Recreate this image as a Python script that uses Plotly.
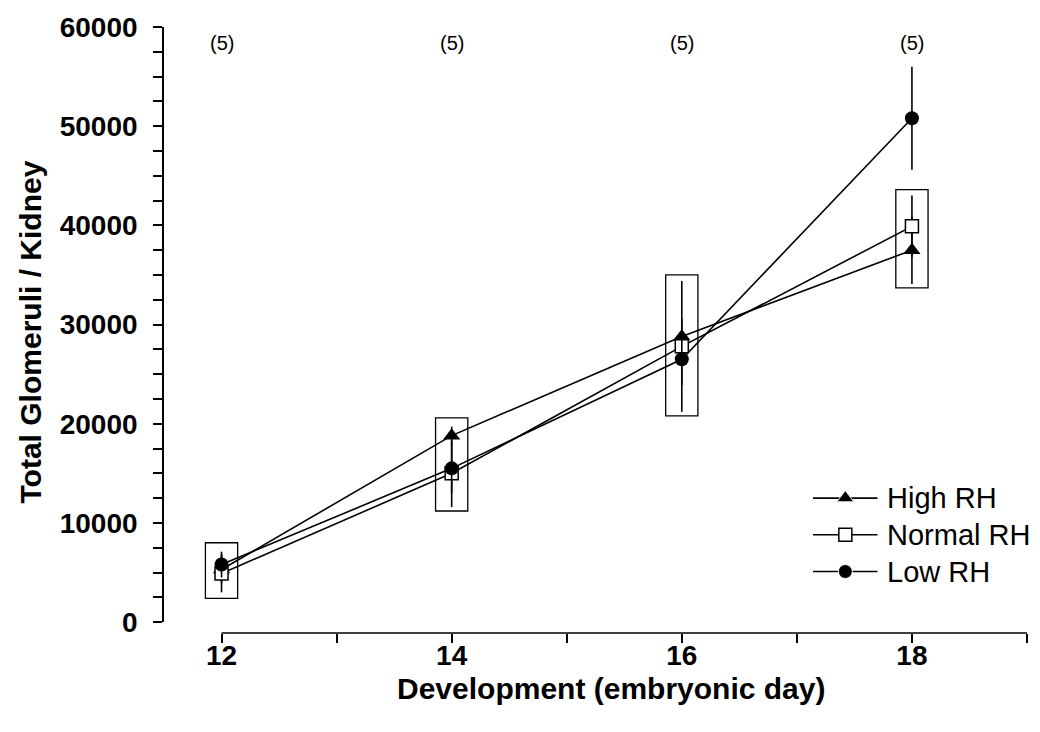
import plotly.graph_objects as go

# Embryonic day of sampling
days = [12, 14, 16, 18]

# Mean total glomeruli per kidney and error (one value per day)
high_rh = [5300, 18800, 28800, 37500]
high_rh_err = [1400, 900, 1800, 3400]

normal_rh = [4900, 15000, 27800, 39900]
normal_rh_err = [1900, 3400, 6600, 3100]

low_rh = [5800, 15500, 26500, 50800]
low_rh_err = [1300, 2500, 2600, 5200]

# Normal-range band around each day (lower / upper edge)
band_low = [2400, 11200, 20800, 33700]
band_high = [8000, 20600, 35000, 43600]
band_halfwidth = 0.14

# Sample size shown above each day
n_labels = ["(5)", "(5)", "(5)", "(5)"]
n_label_y = 58400

series = [
    ("High RH", high_rh, high_rh_err,
     dict(symbol="triangle-up", size=15, color="black", opacity=1)),
    ("Normal RH", normal_rh, normal_rh_err,
     dict(symbol="square", size=13, color="white", opacity=1,
          line=dict(color="black", width=1.5))),
    ("Low RH", low_rh, low_rh_err,
     dict(symbol="circle", size=14, color="black", opacity=1)),
]

FONT = "Liberation Sans, Arial, sans-serif"

# Plot-area geometry (pixels)
W, H = 1040, 732
M_L, M_R, M_T, M_B = 164, 13, 22, 99
PLOT_W = W - M_L - M_R
PLOT_H = H - M_T - M_B

fig = go.Figure()

for name, vals, errs, marker in series:
    fig.add_trace(go.Scatter(
        x=days, y=vals, name=name, mode="lines+markers",
        line=dict(color="black", width=1.6),
        marker=marker,
        error_y=dict(type="data", array=errs, visible=True,
                     color="black", thickness=1.6, width=0),
        cliponaxis=False, showlegend=False,
    ))

# Band rectangles
for d, lo, hi in zip(days, band_low, band_high):
    fig.add_shape(type="rect", xref="x", yref="y",
                  x0=d - band_halfwidth, x1=d + band_halfwidth, y0=lo, y1=hi,
                  line=dict(color="black", width=1.3), fillcolor="rgba(0,0,0,0)",
                  layer="below")

# n labels
for d, t in zip(days, n_labels):
    fig.add_annotation(x=d, y=n_label_y, xref="x", yref="y", text=t,
                       showarrow=False, font=dict(family=FONT, size=20, color="black"))

# Detached x-axis baseline from the first to the last day tick
fig.add_shape(type="line", xref="x", yref="paper", x0=12, x1=19, y0=0, y1=0,
              line=dict(color="black", width=1.6))

# Key: sample line with the marker in its middle, label to the right
key_pos = [2, 1, 0]
for (name, vals, errs, marker), ky in zip(series, key_pos):
    key_marker = dict(marker)
    key_marker["size"] = [0, marker["size"], 0]
    fig.add_trace(go.Scatter(
        x=[0, 0.5, 1], y=[ky, ky, ky], xaxis="x2", yaxis="y2",
        mode="lines+markers", line=dict(color="black", width=1.6),
        marker=key_marker, showlegend=False, cliponaxis=False, hoverinfo="skip",
    ))
    fig.add_annotation(x=1, y=ky, xref="x2", yref="y2", text=name, xanchor="left",
                       xshift=7, showarrow=False,
                       font=dict(family=FONT, size=29, color="black"))

# Axis titles
title_font = dict(family=FONT, size=30, color="black", weight="bold")
fig.add_annotation(text="Development (embryonic day)", xref="paper", yref="paper",
                   x=(611 - M_L) / PLOT_W, y=-(689 - (H - M_B)) / PLOT_H,
                   xanchor="center", yanchor="middle", showarrow=False, font=title_font)
fig.add_annotation(text="Total Glomeruli / Kidney", xref="paper", yref="paper",
                   x=(30 - M_L) / PLOT_W, y=((H - M_B) - 330) / PLOT_H, textangle=-90,
                   xanchor="center", yanchor="middle", showarrow=False, font=title_font)

y_ticks = list(range(0, 60001, 2500))
y_text = [f"{v}" if v % 10000 == 0 else "" for v in y_ticks]

fig.update_layout(
    width=W, height=H,
    margin=dict(l=M_L, r=M_R, t=M_T, b=M_B),
    paper_bgcolor="white", plot_bgcolor="white",
    showlegend=False,
    font=dict(family=FONT, color="black"),
    xaxis=dict(
        range=[11.5, 19.0], anchor="free", position=0,
        tickvals=[12, 13, 14, 15, 16, 17, 18, 19],
        ticktext=["12", "", "14", "", "16", "", "18", ""],
        ticks="outside", ticklen=9, tickwidth=1.5, tickcolor="black",
        showline=False, showgrid=False, zeroline=False, ticklabelstandoff=-12,
        tickfont=dict(family=FONT, size=28, color="black", weight="bold"),
    ),
    yaxis=dict(
        range=[0, 60000], domain=[11 / PLOT_H, 1],
        tickvals=y_ticks, ticktext=y_text,
        ticks="outside", ticklen=9, tickwidth=1.5, tickcolor="black",
        showline=True, linewidth=1.6, linecolor="black",
        showgrid=False, zeroline=False, ticklabelstandoff=10,
        tickfont=dict(family=FONT, size=28, color="black", weight="bold"),
    ),
    xaxis2=dict(domain=[0.752, 0.827], range=[0, 1], anchor="y2",
                visible=False, fixedrange=True),
    yaxis2=dict(domain=[(633 - 589.5) / PLOT_H, (633 - 478.5) / PLOT_H],
                range=[-0.5, 2.5], anchor="x2", visible=False, fixedrange=True),
)

fig.write_html("out.html")
